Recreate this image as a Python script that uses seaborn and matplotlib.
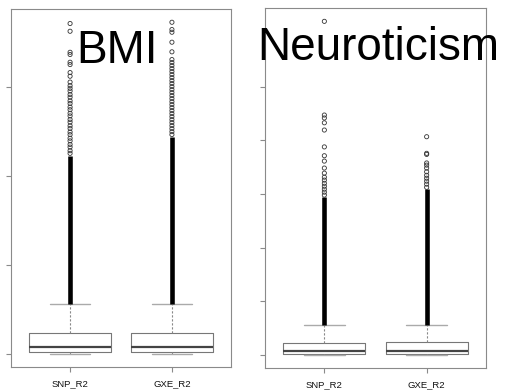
import numpy as np
import pandas as pd
import matplotlib
matplotlib.use("Agg")
import matplotlib.pyplot as plt
import seaborn as sns

# ---------------- data ----------------
groups = ["SNP_R2", "GXE_R2"]

# five-number summaries: [lower whisker, Q1, median, Q3, upper whisker]
bmi_snp_summary = [0.0, 0.0017, 0.0079, 0.0230, 0.0562]
bmi_gxe_summary = [0.0, 0.0018, 0.0079, 0.0234, 0.0560]
neu_snp_summary = [0.0, 0.0004, 0.0015, 0.0045, 0.0112]
neu_gxe_summary = [0.0, 0.0003, 0.0015, 0.0048, 0.0111]

# individually visible outliers
bmi_snp_out = [0.3708, 0.3621, 0.3385, 0.3360, 0.3273, 0.3247, 0.3157, 0.3116,
               0.305, 0.301, 0.298, 0.295, 0.291, 0.288, 0.284, 0.281, 0.277,
               0.274, 0.270, 0.267, 0.263, 0.260, 0.256, 0.253, 0.249, 0.246,
               0.242, 0.239, 0.235, 0.232, 0.228, 0.225]
bmi_gxe_out = [0.3722, 0.3640, 0.3610, 0.3498, 0.3390, 0.3303, 0.3270, 0.3236,
               0.3202, 0.3169, 0.3135, 0.3101, 0.3067, 0.3034, 0.3000, 0.2966,
               0.2933, 0.2899, 0.2865, 0.2831, 0.2798, 0.2764, 0.2730, 0.2697,
               0.2663, 0.2629, 0.2596, 0.2562, 0.2528, 0.2494, 0.2461]
neu_snp_out = [0.1245, 0.0895, 0.0884, 0.0866, 0.0839, 0.0776, 0.0743, 0.0723,
               0.0697, 0.0678, 0.0663, 0.0652, 0.0640, 0.0629, 0.0618, 0.0607,
               0.0596]
neu_gxe_out = [0.0814, 0.0752, 0.0748, 0.0716, 0.0708, 0.0697, 0.0683, 0.0670,
               0.0659, 0.0648, 0.0637, 0.0625]

# top of the solid band of overlapping outliers (starts at the upper whisker)
bmi_band_top = [0.222, 0.243]
neu_band_top = [0.0590, 0.0620]

bmi_ticks = [0.0, 0.1, 0.2, 0.3]
neu_ticks = [0.0, 0.02, 0.04, 0.06, 0.08, 0.10]

titles = ["BMI", "Neuroticism"]

# ---------------- style ----------------
sns.set_theme(style="ticks")
plt.rcParams["font.family"] = ["Liberation Sans", "DejaVu Sans"]

W, H = 506, 391
fig = plt.figure(figsize=(W / 100, H / 100), dpi=100)

FRAME = "#8a8a8a"


def px_axes(x0, x1, y0, y1):
    return fig.add_axes([x0 / W, (H - y1) / H, (x1 - x0) / W, (y1 - y0) / H])


def draw_panel(ax, summaries, outs, band_tops, ticks):
    df = pd.DataFrame({
        "group": np.repeat(groups, 5),
        "value": np.concatenate(summaries),
    })
    sns.boxplot(data=df, x="group", y="value", order=groups, ax=ax,
                whis=(0, 100), showfliers=False, fill=False, width=0.8,
                color="#777777", linewidth=0.8,
                boxprops=dict(color="#777777", linewidth=0.8),
                medianprops=dict(color="#444444", linewidth=1.6),
                whiskerprops=dict(color="#888888", linewidth=0.8,
                                  linestyle=(0, (2.0, 1.6))),
                capprops=dict(color="#aaaaaa", linewidth=1.0))
    # solid band of dense outliers
    hi = [s[4] for s in summaries]
    ax.vlines(x=[0, 1], ymin=hi, ymax=band_tops, color="black",
              linewidth=3.3, zorder=3)
    for i, o in enumerate(outs):
        sns.scatterplot(x=np.full(len(o), i), y=o, ax=ax, marker="o", s=9,
                        color="#333333", facecolor="none",
                        edgecolor="#333333", linewidth=0.6, zorder=4,
                        legend=False)
    allv = np.concatenate([np.concatenate(summaries), np.concatenate(outs)])
    lo, top = allv.min(), allv.max()
    ext = 0.04 * (top - lo)
    ax.set_ylim(lo - ext, top + ext)
    ax.set_xlim(-0.58, 1.58)
    ax.set_yticks(ticks)
    ax.set_xticks([0, 1])
    ax.set_xticklabels(groups)
    ax.set_xlabel("")
    ax.set_ylabel("")
    ax.tick_params(axis="y", labelleft=False, length=3.6, width=0.8,
                   color=FRAME)
    ax.tick_params(axis="x", length=3.6, width=0.8, color=FRAME,
                   labelsize=6.8, pad=5.0, labelcolor="#111111")
    for sp in ax.spines.values():
        sp.set_visible(True)
        sp.set_color(FRAME)
        sp.set_linewidth(0.8)
    ax.set_facecolor("white")


ax1 = px_axes(11, 231, 9, 367)
draw_panel(ax1, [bmi_snp_summary, bmi_gxe_summary], [bmi_snp_out, bmi_gxe_out],
           bmi_band_top, bmi_ticks)

ax2 = px_axes(265, 486, 8, 368)
draw_panel(ax2, [neu_snp_summary, neu_gxe_summary], [neu_snp_out, neu_gxe_out],
           neu_band_top, neu_ticks)

fig.text(117.5 / W, (H - 63) / H, titles[0], ha="center", va="baseline",
         fontsize=33, color="black")
fig.text(378 / W, (H - 60) / H, titles[1], ha="center", va="baseline",
         fontsize=33, color="black")

fig.savefig("out.png", dpi=100, facecolor="white")
